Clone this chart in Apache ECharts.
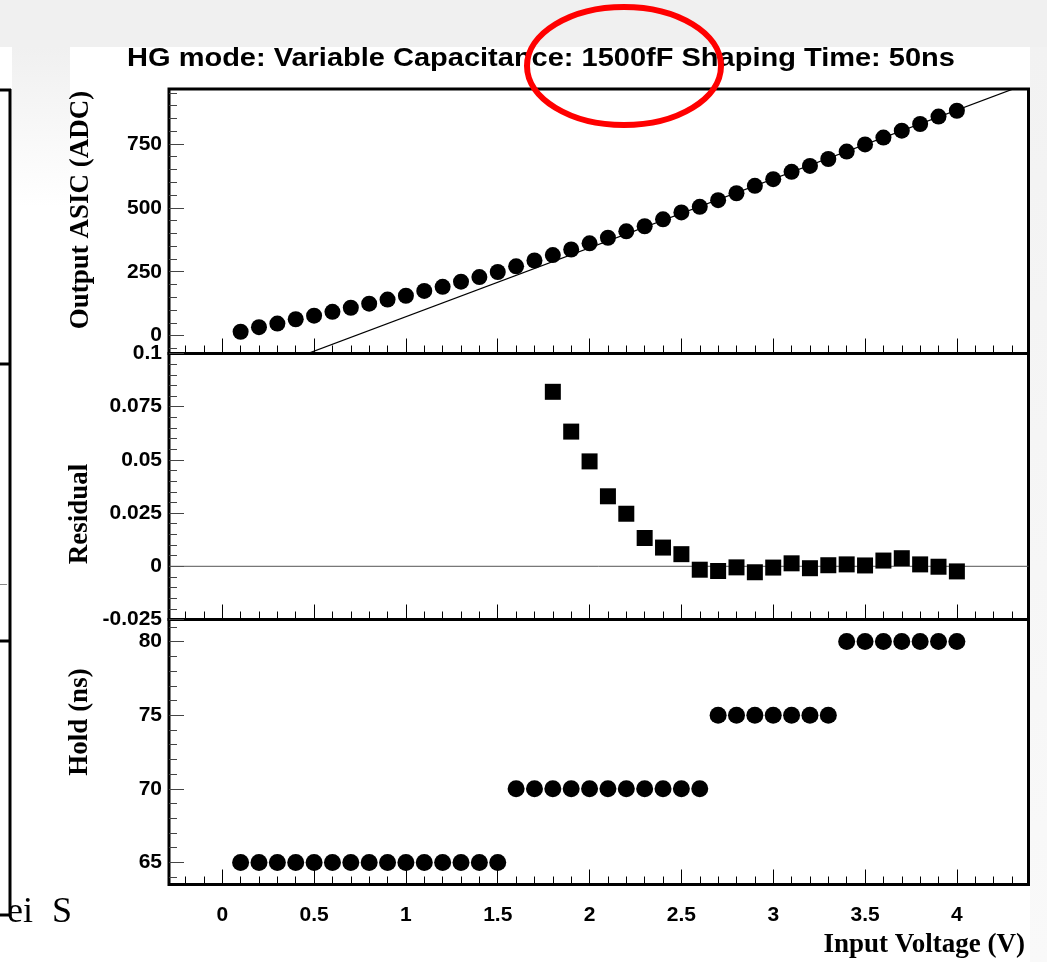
<!DOCTYPE html>
<html>
<head>
<meta charset="utf-8">
<title>HG mode: Variable Capacitance 1500fF, Shaping Time 50ns</title>
<script src="https://cdn.jsdelivr.net/npm/echarts@6/dist/echarts.min.js"></script>
<style>
  html, body { margin: 0; padding: 0; background: #ffffff; }
  #chart { width: 1047px; height: 962px; }
</style>
</head>
<body>
<div id="chart"></div>
<script>
// Input voltage scan points (V)
const voltage = [0.1, 0.2, 0.3, 0.4, 0.5, 0.6, 0.7, 0.8, 0.9, 1.0,
                 1.1, 1.2, 1.3, 1.4, 1.5, 1.6, 1.7, 1.8, 1.9, 2.0,
                 2.1, 2.2, 2.3, 2.4, 2.5, 2.6, 2.7, 2.8, 2.9, 3.0,
                 3.1, 3.2, 3.3, 3.4, 3.5, 3.6, 3.7, 3.8, 3.9, 4.0];
// ASIC output (ADC counts) at each input voltage
const adcOutput = [15, 33, 47, 64, 78, 93, 109, 125, 141, 156,
                   175, 191, 211, 229, 249, 271, 294, 315, 337, 361,
                   383, 408, 428, 455, 482, 504, 530, 557, 586, 612,
                   641, 664, 691, 720, 748, 775, 802, 828, 857, 880];
// Relative residual to the linear fit, fitted region only
const residualVoltage = [1.8, 1.9, 2.0, 2.1, 2.2, 2.3, 2.4, 2.5, 2.6, 2.7, 2.8, 2.9,
                         3.0, 3.1, 3.2, 3.3, 3.4, 3.5, 3.6, 3.7, 3.8, 3.9, 4.0];
const residual = [0.082, 0.0633, 0.0493, 0.0329, 0.0247, 0.0133, 0.0088, 0.0057,
                  -0.0016, -0.0022, -0.0005, -0.0028, -0.0006, 0.0014, -0.0009, 0.0005,
                  0.0009, 0.0004, 0.0027, 0.0038, 0.0009, -0.0002, -0.0024];
// Hold delay used at each input voltage (ns)
const holdTime = [65, 65, 65, 65, 65, 65, 65, 65, 65, 65, 65, 65, 65, 65, 65,
                  70, 70, 70, 70, 70, 70, 70, 70, 70, 70, 70,
                  75, 75, 75, 75, 75, 75, 75,
                  80, 80, 80, 80, 80, 80, 80];
// Linear fit: ADC = fitSlope * V + fitIntercept
const fitSlope = 269.5;
const fitIntercept = -195.5;

// Axis ranges and tick positions
const xRange = [-0.29, 4.39];
const adcRange = [-70, 965];
const residualRange = [-0.025, 0.1];
const holdRange = [63.5, 81.5];
const xTicks = [0, 0.5, 1, 1.5, 2, 2.5, 3, 3.5, 4];
const adcTicks = [0, 250, 500, 750];
const residualTicks = [-0.025, 0, 0.025, 0.05, 0.075, 0.1];
const holdTicks = [65, 70, 75, 80];

function minorSteps(from, to, step) {
  const out = [];
  const n0 = Math.ceil(from / step - 1e-9), n1 = Math.floor(to / step + 1e-9);
  for (let k = n0; k <= n1; k++) out.push(+(k * step).toFixed(6));
  return out;
}
const xMinor = minorSteps(xRange[0], xRange[1], 0.1);
const adcMinor = minorSteps(adcRange[0], adcRange[1], 50);
const residualMinor = minorSteps(residualRange[0], residualRange[1], 0.005);
const holdMinor = minorSteps(holdRange[0], holdRange[1], 1);

const LABEL_FONT = 'Liberation Sans, Arial, Helvetica, sans-serif';
const TITLE_FONT = 'Liberation Serif, Times New Roman, serif';

const panels = [
  { top: 89, height: 264.5 },
  { top: 353.5, height: 266 },
  { top: 619.5, height: 265 }
];
const yRanges = [adcRange, residualRange, holdRange];
const yMajor = [adcTicks, residualTicks, holdTicks];
const yMinor = [adcMinor, residualMinor, holdMinor];

const grids = panels.map(p => ({
  left: 169, top: p.top, width: 859.5, height: p.height,
  show: true, borderColor: '#000', borderWidth: 3,
  backgroundColor: 'rgba(0,0,0,0)', containLabel: false
}));

const labelStyle = { fontFamily: LABEL_FONT, fontWeight: 'bold', fontSize: 21, color: '#000' };
const hiddenLine = { show: false, onZero: false };

const xAxes = [];
const yAxes = [];
panels.forEach((p, g) => {
  xAxes.push({
    type: 'value', gridIndex: g, position: 'bottom', min: xRange[0], max: xRange[1],
    axisLine: hiddenLine, splitLine: { show: false },
    axisTick: { show: true, inside: true, length: 15, customValues: xTicks, lineStyle: { color: '#000', width: 1 } },
    axisLabel: Object.assign({ show: g === 2, margin: 20, customValues: xTicks }, labelStyle)
  });
  xAxes.push({
    type: 'value', gridIndex: g, position: 'bottom', min: xRange[0], max: xRange[1],
    axisLine: hiddenLine, splitLine: { show: false },
    axisTick: { show: true, inside: true, length: 8, customValues: xMinor, lineStyle: { color: '#000', width: 1 } },
    axisLabel: { show: false }
  });
  yAxes.push({
    type: 'value', gridIndex: g, position: 'left', min: yRanges[g][0], max: yRanges[g][1],
    axisLine: hiddenLine, splitLine: { show: false },
    axisTick: { show: true, inside: true, length: 15, customValues: yMajor[g], lineStyle: { color: '#444', width: 1 } },
    axisLabel: Object.assign({ show: true, margin: 7, customValues: yMajor[g] }, labelStyle)
  });
  yAxes.push({
    type: 'value', gridIndex: g, position: 'left', min: yRanges[g][0], max: yRanges[g][1],
    axisLine: hiddenLine, splitLine: { show: false },
    axisTick: { show: true, inside: true, length: 8, customValues: yMinor[g], lineStyle: { color: '#444', width: 1 } },
    axisLabel: { show: false }
  });
});

const fitLine = [xRange[0], xRange[1]].map(v => [v, fitSlope * v + fitIntercept]);
const markerStyle = { color: '#000', opacity: 1 };

const series = [
  {
    name: 'Linear fit', type: 'line', xAxisIndex: 0, yAxisIndex: 0,
    data: fitLine, symbol: 'none', clip: true, z: 2,
    lineStyle: { color: '#000', width: 1.2 }
  },
  {
    name: 'Output ASIC', type: 'scatter', xAxisIndex: 0, yAxisIndex: 0,
    data: voltage.map((v, i) => [v, adcOutput[i]]),
    symbol: 'circle', symbolSize: 16, z: 3, itemStyle: markerStyle
  },
  {
    name: 'Zero', type: 'line', xAxisIndex: 2, yAxisIndex: 2,
    data: [[xRange[0], 0], [xRange[1], 0]], symbol: 'none', z: 2,
    lineStyle: { color: '#555', width: 1 }
  },
  {
    name: 'Residual', type: 'scatter', xAxisIndex: 2, yAxisIndex: 2,
    data: residualVoltage.map((v, i) => [v, residual[i]]),
    symbol: 'rect', symbolSize: 16, z: 3, itemStyle: markerStyle
  },
  {
    name: 'Hold', type: 'scatter', xAxisIndex: 4, yAxisIndex: 4,
    data: voltage.map((v, i) => [v, holdTime[i]]),
    symbol: 'circle', symbolSize: 17, z: 3, itemStyle: markerStyle
  }
];

const axisTitle = (text, x, y, rot, align) => ({
  type: 'text', x: x, y: y, rotation: rot, z: 10,
  style: { text: text, fill: '#000', font: 'bold 27px ' + TITLE_FONT, align: align || 'center', verticalAlign: 'middle' }
});

const graphic = [
  // surrounding slide background
  { type: 'rect', shape: { x: 0, y: 0, width: 1047, height: 47 }, style: { fill: '#f0f0f0' }, z: 0 },
  { type: 'rect', shape: { x: 12, y: 47, width: 58, height: 160 },
    style: { fill: new echarts.graphic.LinearGradient(0, 0, 0, 1, [{ offset: 0, color: '#f0f0f0' }, { offset: 1, color: '#ffffff' }]) }, z: 0 },
  { type: 'rect', shape: { x: 1030, y: 47, width: 17, height: 915 },
    style: { fill: new echarts.graphic.LinearGradient(0, 0, 0, 1, [{ offset: 0, color: '#f2f2f2' }, { offset: 1, color: '#f9f9f9' }]) }, z: 0 },
  // neighbouring slide text, clipped by the table edge
  { type: 'text', x: 33, y: 895, z: 1,
    style: { text: 'ei', fill: '#000', font: '36px ' + TITLE_FONT, align: 'right', verticalAlign: 'alphabetic' } },
  { type: 'text', x: 52, y: 895, z: 1,
    style: { text: 'S', fill: '#000', font: '36px ' + TITLE_FONT, align: 'left', verticalAlign: 'alphabetic' } },
  { type: 'rect', shape: { x: 0, y: 642, width: 10, height: 272 }, style: { fill: '#ffffff' }, z: 2 },
  // neighbouring table edge on the slide
  { type: 'line', shape: { x1: 10, y1: 89, x2: 10, y2: 916 }, style: { stroke: '#000', lineWidth: 3 }, z: 3 },
  { type: 'line', shape: { x1: 0, y1: 90, x2: 11, y2: 90 }, style: { stroke: '#000', lineWidth: 3 }, z: 3 },
  { type: 'line', shape: { x1: 0, y1: 364, x2: 11, y2: 364 }, style: { stroke: '#000', lineWidth: 3 }, z: 3 },
  { type: 'line', shape: { x1: 0, y1: 641, x2: 11, y2: 641 }, style: { stroke: '#000', lineWidth: 3 }, z: 3 },
  { type: 'line', shape: { x1: 0, y1: 915, x2: 11, y2: 915 }, style: { stroke: '#000', lineWidth: 3 }, z: 3 },
  { type: 'line', shape: { x1: 0, y1: 584.5, x2: 7, y2: 584.5 }, style: { stroke: '#888', lineWidth: 1 }, z: 3 },
  // chart title
  { type: 'text', x: 541, y: 59, scaleX: 1.16, z: 5,
    style: { text: 'HG mode: Variable Capacitance: 1500fF Shaping Time: 50ns', fill: '#000',
             font: 'bold 25px ' + LABEL_FONT, align: 'center', verticalAlign: 'middle' } },
  // axis titles
  axisTitle('Output ASIC (ADC)', 81, 210, Math.PI / 2),
  axisTitle('Residual', 80, 514, Math.PI / 2),
  axisTitle('Hold (ns)', 80, 722, Math.PI / 2),
  axisTitle('Input Voltage (V)', 1025, 945, 0, 'right'),
  // highlight ring around the capacitance setting
  { type: 'ellipse', shape: { cx: 624, cy: 66, rx: 97, ry: 59 }, z: 100,
    style: { fill: 'none', stroke: '#ff0000', lineWidth: 6 } }
];

const chart = echarts.init(document.getElementById('chart'), null, { renderer: 'canvas' });
chart.setOption({
  animation: false,
  backgroundColor: '#ffffff',
  grid: grids,
  xAxis: xAxes,
  yAxis: yAxes,
  series: series,
  graphic: graphic
});
</script>
</body>
</html>
